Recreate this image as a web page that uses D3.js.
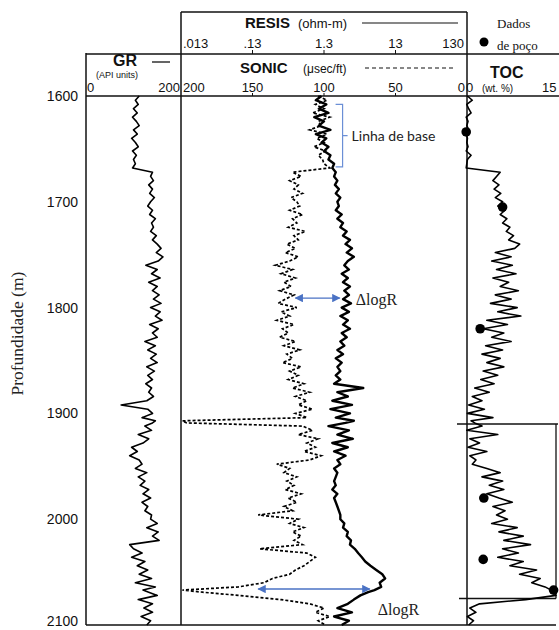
<!DOCTYPE html>
<html><head><meta charset="utf-8">
<script src="https://cdn.jsdelivr.net/npm/d3@7"></script>
<style>body{margin:0;background:#fff}svg{display:block}</style>
</head><body><svg id="c" width="559" height="630"></svg>
<script>
// ---------------- DATA ----------------
const depths = [1600,1604,1608,1612,1616,1620,1624,1628,1632,1636,1640,1644,1648,1652,1656,1660,1664,1668,
1672,1676,1680,1684,1688,1692,1696,1700,
1704,1708,1712,1716,1720,1724,1728,1732,1736,1740,
1744,1748,1752,1756,
1760,1764,1768,1772,1776,1780,1784,1788,
1792,1796,1800,1804,1808,1812,1816,1820,1824,1828,
1832,1836,1840,1844,1848,1852,1856,1860,
1864,1868,1872,1876,1880,1884,1888,
1892,
1896,1900,1904,1907,1909,1912,1916,1920,1924,1928,
1932,1936,1940,1944,
1948,1952,1956,1960,1964,
1968,1972,1976,1980,1984,1988,1992,1996,
2000,2004,2008,2012,2016,2020,
2024,
2028,2032,2036,2040,2044,2048,
2052,2056,2060,2064,2067,2069,2072,2076,2080,
2084,2088,2092,2096,2100];

const grValues = [112,104,110,100,108,98,106,112,100,108,96,104,110,98,106,100,104,98,
140,136,142,132,140,134,144,136,
130,140,134,146,138,142,136,148,140,150,
158,148,162,152,
126,150,138,156,132,150,140,154,
142,158,136,156,146,160,134,152,140,150,
124,146,130,148,136,150,128,144,
130,140,126,138,132,142,128,
74,
130,140,118,146,140,124,138,110,132,120,
96,108,92,112,
118,104,128,110,124,
114,132,120,136,118,130,124,138,
136,150,128,152,140,154,
92,
100,118,96,124,108,130,
112,138,104,146,120,132,150,110,140,
122,140,116,136,128];

const resisValues = [1.2,1.0,1.4,1.1,1.5,0.95,1.3,1.1,1.6,1.0,1.4,1.2,1.5,1.3,1.6,1.5,1.8,1.7,
1.9,1.8,2.0,1.85,2.1,1.9,2.2,2.0,
2.1,1.9,2.3,2.0,2.4,2.2,2.7,2.4,3.0,2.6,
3.2,2.7,3.4,2.8,
2.5,2.9,2.3,2.8,2.4,3.0,2.5,2.9,
2.4,3.1,2.3,2.9,2.2,2.8,2.4,3.0,2.3,2.7,
2.2,2.5,2.0,2.4,1.9,2.3,2.0,2.2,
1.9,2.2,1.8,4.6,2.0,2.8,1.7,
3.2,
1.6,3.0,1.9,3.4,2.6,1.5,2.9,2.0,3.3,1.7,
2.8,1.8,2.6,2.0,
2.2,1.8,2.0,1.9,1.8,
1.9,1.7,2.0,1.8,1.9,2.0,2.1,2.2,
2.2,2.5,2.4,2.8,2.7,3.1,
3.0,
3.5,3.9,4.4,4.9,5.8,7.0,
8.5,9.3,7.8,8.2,6.6,5.4,4.2,3.4,2.8,
2.0,3.2,1.8,2.9,2.3];

const sonicValues = [104,98,106,100,108,96,104,102,110,98,105,100,107,99,104,101,100,96,
122,116,124,118,121,115,123,119,
117,124,115,122,119,125,113,121,118,126,
120,127,118,124,
134,122,130,120,128,123,131,121,
127,132,119,130,124,133,121,129,125,131,
120,128,117,126,122,129,116,124,
118,125,114,122,110,120,112,
118,
108,120,112,199,196,115,108,118,104,112,
106,114,102,110,
133,124,128,119,126,
121,127,116,125,119,128,122,146,
118,124,114,122,116,121,
115,
145,112,106,110,114,120,
124,136,142,160,199,185,160,130,110,
100,106,96,104,99];

const tocValues = [0.4,1.2,0.3,0.6,1.0,0.2,0.5,0.3,0.6,0.2,0.4,0.3,0.5,0.2,1.0,0.4,0.3,0.2,
5.8,5.2,4.6,5.6,4.8,5.9,5.0,6.2,
5.4,6.6,5.8,6.9,6.2,7.4,6.8,8.0,7.2,9.0,
8.2,5.0,7.6,4.4,
7.8,5.2,8.4,4.6,7.2,5.8,8.8,5.0,
7.6,4.2,8.6,5.4,9.2,3.6,7.0,3.0,6.4,4.4,
7.6,3.4,6.2,2.8,5.8,3.6,6.4,3.0,
5.4,2.6,4.8,1.6,4.0,1.2,2.8,
0.6,
3.2,0.4,4.6,1.0,1.6,2.8,0.3,5.4,0.8,2.4,
0.5,3.6,0.8,1.8,
1.2,3.6,5.8,2.8,6.2,
4.0,6.4,3.6,5.6,7.8,4.6,6.6,5.2,
7.0,4.4,8.6,5.6,9.6,6.4,
10.8,
6.2,8.8,5.4,9.6,7.4,11.8,
9.0,12.4,11.0,13.2,14.2,14.6,15.0,10.0,2.4,
0.8,1.8,0.4,1.4,0.6];

const wellDepths = [1634,1705,1820,1980,2038,2067];
const wellToc = [0.2,6.2,2.5,3.1,3.0,14.6];

const depthTicks = [1600,1700,1800,1900,2000,2100];
const grTicks = [0,200];
const sonicTicks = [200,150,100,50,0];
const resisTicks = [0.013,0.13,1.3,13,130];
const resisTickLabels = [".013",".13","1.3","13","130"];
const tocTicks = [0,15];

// annotations (in data units: depth, sonic-scale units)
const deltaArrows = [{depth:1791, from:120, to:89}, {depth:2066, from:146, to:68}];
const deltaLabelDepths = [1792, 2085];
const baselineBracket = {top:1608, bottom:1667, at:87};

// ---------------- SCALES ----------------
const svg = d3.select("#c");
const y = d3.scaleLinear().domain([1600,2100]).range([96,625]);
const xGR = d3.scaleLinear().domain([0,200]).range([86,181]);
const xSonic = d3.scaleLinear().domain([200,0]).range([181,467]);
const xRes = d3.scaleLog().domain([0.013,130]).range([181,467]);
const xToc = d3.scaleLinear().domain([0,15]).range([465,556]);

const sans = "Liberation Sans, Arial, sans-serif";
const serif = "Liberation Serif, Times New Roman, serif";
const blue = "#4a72c4";

// ---------------- FRAME ----------------
const g = svg.append("g").attr("stroke","#111").attr("fill","none");
g.append("line").attr("x1",xGR(0)).attr("x2",xGR(0)).attr("y1",53).attr("y2",y(2100)).attr("stroke-width",1.5);
g.append("line").attr("x1",xSonic(200)).attr("x2",xSonic(200)).attr("y1",12).attr("y2",y(2100)).attr("stroke-width",1.5);
g.append("line").attr("x1",xSonic(0)).attr("x2",xSonic(0)).attr("y1",12).attr("y2",y(2100)).attr("stroke-width",1.5);
g.append("line").attr("x1",xSonic(200)).attr("x2",xSonic(0)).attr("y1",12).attr("y2",12).attr("stroke-width",1.5);
g.append("line").attr("x1",xGR(0)).attr("x2",559).attr("y1",54).attr("y2",54).attr("stroke-width",1.3);
g.append("line").attr("x1",xGR(0)).attr("x2",559).attr("y1",y(1600)).attr("y2",y(1600)).attr("stroke-width",1.5);
g.append("line").attr("x1",xGR(0)).attr("x2",xToc(15)).attr("y1",y(2100)).attr("y2",y(2100)).attr("stroke-width",1.5);
// pasted box in TOC track
g.append("line").attr("x1",xToc(0)-8).attr("x2",xToc(15)+2).attr("y1",y(1910)).attr("y2",y(1910)).attr("stroke-width",1.6);
g.append("line").attr("x1",xToc(0)-6).attr("x2",xToc(15)).attr("y1",y(2075)).attr("y2",y(2075)).attr("stroke-width",1.6);
g.append("line").attr("x1",xToc(15)).attr("x2",xToc(15)).attr("y1",y(1910)).attr("y2",y(2075)).attr("stroke-width",1.3);

// ---------------- HEADERS ----------------
function txt(x,yy,s,size,opts={}){
  return svg.append("text").attr("x",x).attr("y",yy).text(s)
    .attr("font-family",opts.family||sans).attr("font-size",size)
    .attr("font-weight",opts.weight||"normal").attr("text-anchor",opts.anchor||"start")
    .attr("fill",opts.fill||"#111");
}
// GR header
txt(113,66,"GR",16,{weight:"bold"});
svg.append("line").attr("x1",152).attr("x2",170).attr("y1",62).attr("y2",62).attr("stroke","#111").attr("stroke-width",1.3);
txt(96,78,"(API units)",9);
grTicks.forEach((t,i)=>txt(i===0?xGR(t)+1:xGR(t)-1,92,String(t),13,{anchor:i===0?"start":"end"}));

// RESIS header
txt(245,28,"RESIS",15,{weight:"bold"});
txt(298,28,"(ohm-m)",13);
svg.append("line").attr("x1",362).attr("x2",458).attr("y1",23).attr("y2",23).attr("stroke","#111").attr("stroke-width",1.2);
resisTicks.forEach((t,i)=>{
  const last = i===resisTicks.length-1;
  const x = i===0 ? xRes(t)+2 : last ? xRes(t)-3 : xRes(t);
  txt(x,48,resisTickLabels[i],13,{anchor:i===0?"start":last?"end":"middle"});
  if(i>0 && !last) svg.append("line").attr("x1",xRes(t)).attr("x2",xRes(t)).attr("y1",50).attr("y2",54).attr("stroke","#111");
});

// SONIC header
txt(240,73,"SONIC",15,{weight:"bold"});
txt(303,73,"(\u03bcsec/ft)",12);
svg.append("line").attr("x1",365).attr("x2",455).attr("y1",68).attr("y2",68).attr("stroke","#111").attr("stroke-width",1.1).attr("stroke-dasharray","4,3");
sonicTicks.forEach((t,i)=>{
  const last = i===sonicTicks.length-1;
  const x = i===0 ? xSonic(t)+2 : last ? xSonic(t)-2 : xSonic(t);
  txt(x,92,String(t),13,{anchor:i===0?"start":last?"end":"middle"});
  if(i>0 && !last) svg.append("line").attr("x1",xSonic(t)).attr("x2",xSonic(t)).attr("y1",93).attr("y2",96).attr("stroke","#111");
});

// TOC header
txt(490,78,"TOC",16,{weight:"bold"});
txt(482,92,"(wt.  %)",10);
tocTicks.forEach((t,i)=>txt(i===0?xToc(t)+1:xToc(t)-14,92,String(t),13,{anchor:"start"}));

// Legend
svg.append("circle").attr("cx",484).attr("cy",42).attr("r",4.5).attr("fill","#000");
txt(497,28,"Dados",13,{family:serif});
txt(497,50,"de poço",13,{family:serif});

// Depth axis labels
depthTicks.forEach(d=>txt(78,Math.min(y(d)+5,626),String(d),14,{anchor:"end"}));
svg.append("text").attr("transform",`translate(23,${y(1800)+26}) rotate(-90)`)
  .attr("text-anchor","middle").attr("font-family",serif).attr("font-size",17.5).attr("fill","#222")
  .text("Profundidade (m)");

// ---------------- CURVES ----------------
const rows = depths.map((d,i)=>({d, gr:grValues[i], res:resisValues[i], son:sonicValues[i], toc:tocValues[i]}));

svg.append("path").datum(rows).attr("fill","none").attr("stroke","#000").attr("stroke-width",1.6)
  .attr("stroke-linejoin","round")
  .attr("d",d3.line().x(r=>xGR(r.gr)).y(r=>y(r.d)));

svg.append("path").datum(rows).attr("fill","none").attr("stroke","#000").attr("stroke-width",1.7)
  .attr("stroke-dasharray","3,2")
  .attr("d",d3.line().x(r=>xSonic(r.son)).y(r=>y(r.d)));

svg.append("path").datum(rows).attr("fill","none").attr("stroke","#000").attr("stroke-width",2.4)
  .attr("stroke-linejoin","round")
  .attr("d",d3.line().x(r=>xRes(r.res)).y(r=>y(r.d)));

svg.append("path").datum(rows).attr("fill","none").attr("stroke","#000").attr("stroke-width",1.6)
  .attr("stroke-linejoin","round")
  .attr("d",d3.line().x(r=>xToc(r.toc)).y(r=>y(r.d)));

// well data points
svg.selectAll("circle.well").data(wellDepths).enter().append("circle").attr("class","well")
  .attr("cx",(d,i)=>xToc(wellToc[i])).attr("cy",d=>y(d)).attr("r",4.8).attr("fill","#000");

// ---------------- ANNOTATIONS ----------------
const defs = svg.append("defs");
defs.append("marker").attr("id","ah").attr("viewBox","0 0 10 10").attr("refX",9).attr("refY",5)
  .attr("markerWidth",6).attr("markerHeight",6).attr("orient","auto-start-reverse")
  .append("path").attr("d","M0,0 L10,5 L0,10 z").attr("fill",blue);
deltaArrows.forEach((a,i)=>{
  svg.append("line").attr("x1",xSonic(a.from)).attr("x2",xSonic(a.to)).attr("y1",y(a.depth)).attr("y2",y(a.depth))
    .attr("stroke",blue).attr("stroke-width",1.4)
    .attr("marker-start","url(#ah)").attr("marker-end","url(#ah)");
  txt(xSonic(a.to)+(i===0?16:8),y(deltaLabelDepths[i])+6,"\u0394logR",16,{family:serif,fill:"#222"});
});
const bx = xSonic(baselineBracket.at), bt = y(baselineBracket.top), bb = y(baselineBracket.bottom);
svg.append("path").attr("d",`M${bx-7},${bt} H${bx} V${bb} H${bx-7} M${bx},${(bt+bb)/2} H${bx+5}`)
  .attr("fill","none").attr("stroke","#6b8fd6").attr("stroke-width",1.2);
txt(bx+9,(bt+bb)/2+5,"Linha de base",14,{family:"Lato, Open Sans, sans-serif",fill:"#222"});
</script></body></html>
